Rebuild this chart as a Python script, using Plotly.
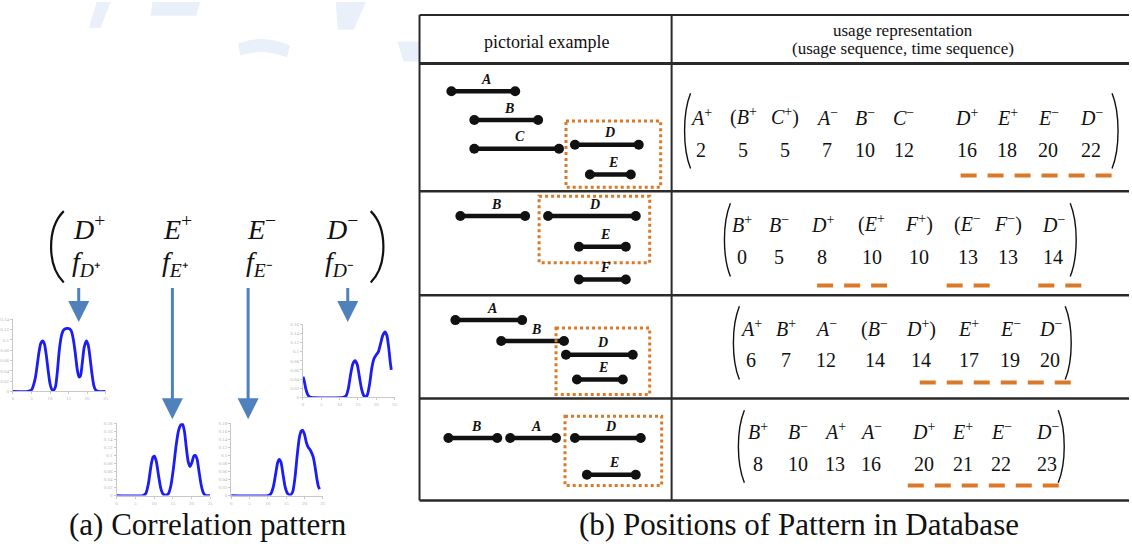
import plotly.graph_objects as go

W, H = 1132, 557

# ------------------------------------------------------------------ data
# (a) density curves (x: time 0-25, y: density)
FDP_X = [0, 4, 5, 6, 7, 7.5, 8, 8.5, 9, 9.5, 10, 10.5, 11, 11.5, 12, 12.5, 13, 13.5, 14, 14.7,
         15.3, 15.8, 16.3, 16.8, 17.3, 17.8, 18.2, 18.7, 19.2, 19.8, 20.3, 20.8, 21.3, 21.8, 22.3, 23, 25]
FDP_Y = [0, 0, 0.003, 0.025, 0.075, 0.093, 0.098, 0.092, 0.07, 0.04, 0.015, 0.004, 0.003, 0.01, 0.04,
         0.08, 0.105, 0.117, 0.121, 0.122, 0.121, 0.116, 0.1, 0.075, 0.045, 0.028, 0.03, 0.055, 0.085,
         0.098, 0.09, 0.065, 0.035, 0.012, 0.003, 0, 0]

FDM_X = [0, 0.3, 0.7, 1.2, 1.7, 2.2, 11, 11.8, 12.4, 13, 13.6, 14.2, 14.8, 15.4, 16, 16.6, 17.1, 17.6,
         18.2, 18.8, 19.4, 20, 20.6, 21.2, 21.8, 22.4, 22.9, 23.4, 23.8, 24.1]
FDM_Y = [0.045, 0.038, 0.022, 0.008, 0.002, 0, 0, 0.004, 0.02, 0.05, 0.073, 0.08, 0.072, 0.045, 0.018,
         0.004, 0.001, 0.006, 0.03, 0.065, 0.085, 0.093, 0.1, 0.118, 0.136, 0.143, 0.135, 0.108, 0.078, 0.06]

FEP_X = [0, 7, 7.8, 8.5, 9.2, 9.7, 10.1, 10.6, 11.2, 11.8, 12.4, 13.1, 13.8, 14.5, 15.2, 15.9, 16.5,
         17.1, 17.6, 18.1, 18.6, 19.1, 19.6, 20.1, 20.6, 21.0, 21.5, 22.0, 22.6, 23.2, 23.8, 25]
FEP_Y = [0, 0, 0.005, 0.03, 0.075, 0.095, 0.098, 0.085, 0.05, 0.018, 0.004, 0.001, 0.004, 0.025, 0.07,
         0.125, 0.16, 0.175, 0.178, 0.16, 0.12, 0.085, 0.072, 0.082, 0.098, 0.1, 0.09, 0.06, 0.025,
         0.006, 0, 0]

FEM_X = [0, 10, 10.8, 11.5, 12.2, 12.7, 13.1, 13.6, 14.1, 14.7, 15.3, 16.1, 16.8, 17.4, 18.0, 18.6,
         19.1, 19.5, 20.0, 20.5, 21.0, 21.5, 22.0, 22.4, 22.9, 23.4, 23.8, 24.1]
FEM_Y = [0, 0, 0.004, 0.022, 0.058, 0.083, 0.09, 0.082, 0.055, 0.022, 0.006, 0.001, 0.01, 0.045, 0.1,
         0.145, 0.16, 0.162, 0.152, 0.132, 0.12, 0.114, 0.105, 0.095, 0.07, 0.04, 0.022, 0.016]

TOP_EVENTS = ["D+", "E+", "E-", "D-"]

# (b) usage sequences and time sequences
ROW1_TOKENS = ["A+", "(B+", "C+)", "A-", "B-", "C-", "D+", "E+", "E-", "D-"]
ROW1_TIMES = ["2", "5", "5", "7", "10", "12", "16", "18", "20", "22"]
ROW2_TOKENS = ["B+", "B-", "D+", "(E+", "F+)", "(E-", "F-)", "D-"]
ROW2_TIMES = ["0", "5", "8", "10", "10", "13", "13", "14"]
ROW3_TOKENS = ["A+", "B+", "A-", "(B-", "D+)", "E+", "E-", "D-"]
ROW3_TIMES = ["6", "7", "12", "14", "14", "17", "19", "20"]
ROW4_TOKENS = ["B+", "B-", "A+", "A-", "D+", "E+", "E-", "D-"]
ROW4_TIMES = ["8", "10", "13", "16", "20", "21", "22", "23"]

# pictorial intervals (start / end on the drawing's time axis)
PICT1_LABELS = ["A", "B", "C", "D", "E"]
PICT1_START = [452, 475, 475, 576, 591]
PICT1_END = [516, 539, 560, 640, 632]
PICT2_LABELS = ["B", "D", "E", "F"]
PICT2_START = [461, 549, 580, 580]
PICT2_END = [526, 637, 627, 627]
PICT3_LABELS = ["A", "B", "D", "E"]
PICT3_START = [456, 502, 567, 578]
PICT3_END = [523, 565, 634, 624]
PICT4_LABELS = ["B", "A", "D", "E"]
PICT4_START = [449, 511, 576, 588]
PICT4_END = [498, 557, 642, 637]

# ------------------------------------------------------------------ layout constants
BLACK = "#111111"
LINE = "#2a2a2a"
ORANGE = "rgb(218,121,40)"
BLUE = "rgb(28,28,245)"
ARROW = "rgb(79,129,189)"
SERIF = "Liberation Serif"

PICT_Y = [[90, 119, 148, 144, 174], [216, 216, 247, 280], [321, 342, 356, 381], [440, 440, 440, 477]]
BOXES = [(567, 120, 662, 187), (540, 196, 651, 263), (557, 329, 651, 396), (566, 418, 663, 488)]
COLS = [[702, 745, 787, 829, 867, 906, 969, 1010, 1051, 1094],
        [744, 781, 824, 874, 921, 970, 1011, 1056],
        [753, 788, 828, 877, 923, 971, 1013, 1053],
        [760, 800, 837, 873, 926, 965, 1004, 1050]]
SEQ_Y = [(116, 149), (224, 257), (329, 361), (433, 466)]
BRACKETS = [(687, 1120, 92, 168), (727, 1078, 203, 277), (736, 1073, 307, 381), (741, 1066, 412, 485)]
DASHES = [[(963, 1117, 175)],
          [(819, 890, 286), (949, 993, 286), (1041, 1085, 286)],
          [(922, 1076, 384)],
          [(910, 1064, 488)]]

fig = go.Figure()
shapes = []
annotations = []

# faint watermark fragments (top left)
WM = "rgba(120,160,220,0.16)"
for p in ["M 96,0 L 110,0 L 100,26 L 88,26 Z",
          "M 152,0 L 200,0 L 196,14 L 150,14 Z",
          "M 238,42 Q 262,32 290,44 L 287,56 Q 262,46 240,54 Z",
          "M 336,0 L 366,0 L 354,28 L 338,28 Z",
          "M 398,40 L 420,40 L 420,60 L 404,60 Z"]:
    shapes.append(dict(type="path", xref="x", yref="y", path=p, fillcolor=WM,
                       line=dict(width=0), layer="below"))

# ------------------------------------------------------------------ (b) table frame
TL, TR, TT, TB, TD = 420, 1134, 13, 503, 673
for (x0, y0, x1, y1, w) in [(TL, TT, TR, TT, 2), (TL, TT, TL, TB, 2), (TD, TT, TD, TB, 2),
                            (TL, 62, TR, 62, 3), (TL, 191, TR, 191, 2.5), (TL, 296, TR, 296, 2.5),
                            (TL, 400, TR, 400, 2.5), (TL, TB, TR, TB, 2.5)]:
    shapes.append(dict(type="line", xref="x", yref="y", x0=x0, y0=y0, x1=x1, y1=y1,
                       line=dict(color=LINE, width=w), layer="below"))

annotations.append(dict(x=547, y=40, text="pictorial example", showarrow=False,
                        font=dict(family=SERIF, size=18, color=BLACK)))
annotations.append(dict(x=905, y=29, text="usage representation", showarrow=False,
                        font=dict(family=SERIF, size=17, color=BLACK)))
annotations.append(dict(x=905, y=47, text="(usage sequence, time sequence)", showarrow=False,
                        font=dict(family=SERIF, size=17, color=BLACK)))

# pictorial intervals
picts = [(PICT1_LABELS, PICT1_START, PICT1_END), (PICT2_LABELS, PICT2_START, PICT2_END),
         (PICT3_LABELS, PICT3_START, PICT3_END), (PICT4_LABELS, PICT4_START, PICT4_END)]
for r, (labels, starts, ends) in enumerate(picts):
    xs, ys = [], []
    for k, lab in enumerate(labels):
        y = PICT_Y[r][k]
        xs += [starts[k], ends[k], None]
        ys += [y, y, None]
        annotations.append(dict(x=(starts[k] + ends[k]) / 2 + 3, y=y - 12,
                                text=f"<b><i>{lab}</i></b>", showarrow=False,
                                font=dict(family=SERIF, size=14, color=BLACK)))
    fig.add_trace(go.Scatter(x=xs, y=ys, mode="lines+markers", xaxis="x", yaxis="y",
                             line=dict(color=BLACK, width=4.5),
                             marker=dict(color=BLACK, size=10), hoverinfo="skip",
                             showlegend=False))
    bx0, by0, bx1, by1 = BOXES[r]
    shapes.append(dict(type="rect", xref="x", yref="y", x0=bx0, y0=by0, x1=bx1, y1=by1,
                       line=dict(color=ORANGE, width=3, dash="dot")))


def fmt(tok):
    pre = "(" if tok.startswith("(") else ""
    post = ")" if tok.endswith(")") else ""
    core = tok.strip("()")
    sign = "+" if core[1] == "+" else "−"
    return f"{pre}<i>{core[0]}</i><sup>{sign}</sup>{post}"


rows = [(ROW1_TOKENS, ROW1_TIMES), (ROW2_TOKENS, ROW2_TIMES), (ROW3_TOKENS, ROW3_TIMES),
        (ROW4_TOKENS, ROW4_TIMES)]
for r, (toks, times) in enumerate(rows):
    ty, ny = SEQ_Y[r]
    for k, tok in enumerate(toks):
        annotations.append(dict(x=COLS[r][k], y=ty, text=fmt(tok), showarrow=False,
                                font=dict(family=SERIF, size=20, color=BLACK)))
        annotations.append(dict(x=COLS[r][k], y=ny, text=times[k], showarrow=False,
                                font=dict(family=SERIF, size=20, color=BLACK)))
    lx, rx, y0, y1 = BRACKETS[r]
    shapes.append(dict(type="path", xref="x", yref="y",
                       path=f"M {lx+5},{y0} C {lx-3},{y0+20} {lx-3},{y1-20} {lx+5},{y1}",
                       line=dict(color=BLACK, width=1.4)))
    shapes.append(dict(type="path", xref="x", yref="y",
                       path=f"M {rx-5},{y0} C {rx+3},{y0+20} {rx+3},{y1-20} {rx-5},{y1}",
                       line=dict(color=BLACK, width=1.4)))
    for (x0, x1, y) in DASHES[r]:
        shapes.append(dict(type="line", xref="x", yref="y", x0=x0, x1=x1, y0=y, y1=y,
                           line=dict(color=ORANGE, width=4, dash="16px,11px")))

# ------------------------------------------------------------------ (a) correlation pattern
TOP_X = [88, 177, 261, 342]
for k, ev in enumerate(TOP_EVENTS):
    sign = "+" if ev[1] == "+" else "−"
    sup = "⁺" if ev[1] == "+" else "⁻"
    annotations.append(dict(x=TOP_X[k], y=228, text=f"<i>{ev[0]}</i><sup>{sign}</sup>",
                            showarrow=False, font=dict(family=SERIF, size=28, color=BLACK)))
    annotations.append(dict(x=TOP_X[k] - 2, y=264, text=f"<i>f</i><sub><i>{ev[0]}</i>{sup}</sub>",
                            showarrow=False, font=dict(family=SERIF, size=28, color=BLACK)))
shapes.append(dict(type="path", xref="x", yref="y",
                   path="M 63,211 C 46,228 46,266 63,283", line=dict(color=BLACK, width=2.2)))
shapes.append(dict(type="path", xref="x", yref="y",
                   path="M 371,211 C 388,228 388,266 371,283", line=dict(color=BLACK, width=2.2)))

for (x, y1) in [(78, 323), (172, 421), (248, 421), (348, 323)]:
    annotations.append(dict(x=x, y=y1, ax=x, ay=287, xref="x", yref="y", axref="x", ayref="y",
                            text="", showarrow=True, arrowhead=2, arrowsize=1.4, arrowwidth=3,
                            arrowcolor=ARROW))

# density subplots
curves = [(FDP_X, FDP_Y, (12, 320, 105, 393), 0.14),
          (FDM_X, FDM_Y, (303, 325, 395, 399), 0.16),
          (FEP_X, FEP_Y, (116, 425, 210, 498), 0.18),
          (FEM_X, FEM_Y, (231, 425, 323, 498), 0.18)]
axis_layout = {}
for i, (cx, cy, (x0, y0, x1, y1), ymax) in enumerate(curves, start=2):
    fig.add_trace(go.Scatter(x=cx, y=cy, mode="lines", xaxis=f"x{i}", yaxis=f"y{i}",
                             line=dict(color=BLUE, width=2.8, shape="spline", smoothing=0.6),
                             hoverinfo="skip", showlegend=False))
    common = dict(showline=True, linecolor="#c9c9c9", linewidth=1, ticks="outside", ticklen=2,
                  tickcolor="#c9c9c9", tickfont=dict(family=SERIF, size=5, color="#b5b5b5"),
                  showgrid=False, zeroline=False, fixedrange=True)
    axis_layout[f"xaxis{i}"] = dict(domain=[x0 / W, x1 / W], range=[0, 25], dtick=5,
                                    anchor=f"y{i}", **common)
    axis_layout[f"yaxis{i}"] = dict(domain=[1 - y1 / H, 1 - y0 / H], range=[0, ymax], dtick=0.02,
                                    anchor=f"x{i}", **common)

# captions
annotations.append(dict(x=208, y=527, text="(a) Correlation pattern", showarrow=False,
                        font=dict(family=SERIF, size=31, color=BLACK)))
annotations.append(dict(x=801, y=527, text="(b) Positions of Pattern in Database", showarrow=False,
                        font=dict(family=SERIF, size=31, color=BLACK)))

for a in annotations:
    a.setdefault("xref", "x")
    a.setdefault("yref", "y")

fig.update_layout(
    width=W, height=H, margin=dict(l=0, r=0, t=0, b=0),
    paper_bgcolor="white", plot_bgcolor="rgba(0,0,0,0)", showlegend=False,
    font=dict(family=SERIF),
    xaxis=dict(range=[0, W], domain=[0, 1], visible=False, fixedrange=True),
    yaxis=dict(range=[H, 0], domain=[0, 1], visible=False, fixedrange=True),
    shapes=shapes, annotations=annotations, **axis_layout,
)

fig.write_html("out.html")
